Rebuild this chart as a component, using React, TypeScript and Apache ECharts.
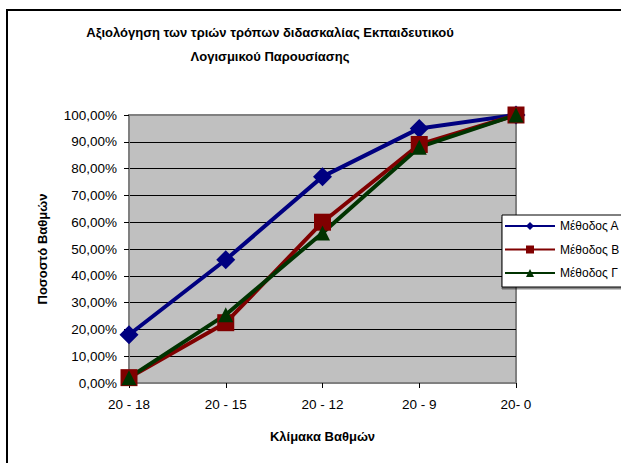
import React, { useEffect, useRef } from "react";
import * as echarts from "echarts";

const categories = ["20 - 18", "20 - 15", "20 - 12", "20 - 9", "20- 0"];
const seriesNames = ["Μέθοδος Α", "Μέθοδος Β", "Μέθοδος Γ"];
const methodA = [0.18, 0.46, 0.77, 0.95, 1.0];
const methodB = [0.02, 0.225, 0.6, 0.89, 1.0];
const methodG = [0.02, 0.255, 0.56, 0.88, 1.0];
const yTickLabels = [
  "0,00%", "10,00%", "20,00%", "30,00%", "40,00%", "50,00%",
  "60,00%", "70,00%", "80,00%", "90,00%", "100,00%",
];
const titleText = "Αξιολόγηση των τριών τρόπων διδασκαλίας Εκπαιδευτικού\nΛογισμικού Παρουσίασης";
const xTitle = "Κλίμακα Βαθμών";
const yTitle = "Ποσοστό Βαθμών";

const FONT = "'Liberation Sans', Arial, sans-serif";

export default function App() {
  const ref = useRef<HTMLDivElement>(null);
  useEffect(() => {
    if (!ref.current) return;
    const chart = echarts.init(ref.current, undefined, { renderer: "svg" });
    const splitColors = yTickLabels.map((_, i) => (i === yTickLabels.length - 1 ? "#808080" : "#000000"));
    chart.setOption({
      animation: false,
      backgroundColor: "#ffffff",
      textStyle: { fontFamily: FONT },
      graphic: [
        {
          type: "rect",
          shape: { x: 7, y: 10, width: 800, height: 600 },
          style: { fill: "none", stroke: "#000", lineWidth: 2 },
          z: 100,
        },
        {
          type: "text",
          x: 270,
          y: 20,
          style: {
            text: titleText,
            textAlign: "center",
            fontFamily: FONT,
            fontWeight: "bold",
            fontSize: 13,
            lineHeight: 24,
            fill: "#000",
          },
        },
      ],
      grid: {
        left: 129,
        top: 115,
        width: 387,
        height: 268,
        show: true,
        backgroundColor: "#C0C0C0",
        borderColor: "#808080",
        borderWidth: 2,
      },
      legend: {
        orient: "vertical",
        left: 502,
        top: 215,
        padding: [5, 8, 8, 2],
        itemWidth: 50,
        itemHeight: 10,
        itemGap: 11.5,
        backgroundColor: "#ffffff",
        borderColor: "#000",
        borderWidth: 1,
        shadowColor: "rgba(0,0,0,0.45)",
        shadowOffsetX: 0,
        shadowOffsetY: 2,
        shadowBlur: 0,
        textStyle: { fontFamily: FONT, fontSize: 12, color: "#000" },
        data: seriesNames,
      },
      xAxis: {
        type: "category",
        data: categories,
        boundaryGap: false,
        name: xTitle,
        nameLocation: "middle",
        nameGap: 47,
        nameTextStyle: { fontFamily: FONT, fontWeight: "bold", fontSize: 13, color: "#000" },
        axisLine: { lineStyle: { color: "#808080", width: 2 } },
        axisTick: { show: true, length: 5, lineStyle: { color: "#000" } },
        axisLabel: { fontFamily: FONT, fontSize: 13.5, color: "#000", margin: 14 },
        splitLine: { show: false },
      },
      yAxis: {
        type: "value",
        min: 0,
        max: 1,
        interval: 0.1,
        name: yTitle,
        nameLocation: "middle",
        nameGap: 80,
        nameRotate: 90,
        nameTextStyle: { fontFamily: FONT, fontWeight: "bold", fontSize: 13, color: "#000" },
        axisLine: { show: true, lineStyle: { color: "#808080", width: 2 } },
        axisTick: { show: true, length: 5, lineStyle: { color: "#000" } },
        axisLabel: {
          fontFamily: FONT,
          fontSize: 13.5,
          color: "#000",
          margin: 12,
          formatter: (v: number) => yTickLabels[Math.round(v * 10)],
        },
        splitLine: { show: true, lineStyle: { color: splitColors, width: 1 } },
      },
      series: [
        {
          name: seriesNames[0],
          type: "line",
          data: methodA,
          symbol: "diamond",
          symbolSize: 19,
          lineStyle: { color: "#000080", width: 4 },
          itemStyle: { color: "#000080" },
        },
        {
          name: seriesNames[1],
          type: "line",
          data: methodB,
          symbol: "rect",
          symbolSize: 17,
          lineStyle: { color: "#800000", width: 4 },
          itemStyle: { color: "#800000" },
        },
        {
          name: seriesNames[2],
          type: "line",
          data: methodG,
          symbol: "triangle",
          symbolSize: 15,
          lineStyle: { color: "#003300", width: 4 },
          itemStyle: { color: "#003300" },
        },
      ],
    });
    return () => chart.dispose();
  }, []);
  return (
    <div
      ref={ref}
      style={{ position: "fixed", left: 0, top: 0, width: 621, height: 463 }}
    />
  );
}
